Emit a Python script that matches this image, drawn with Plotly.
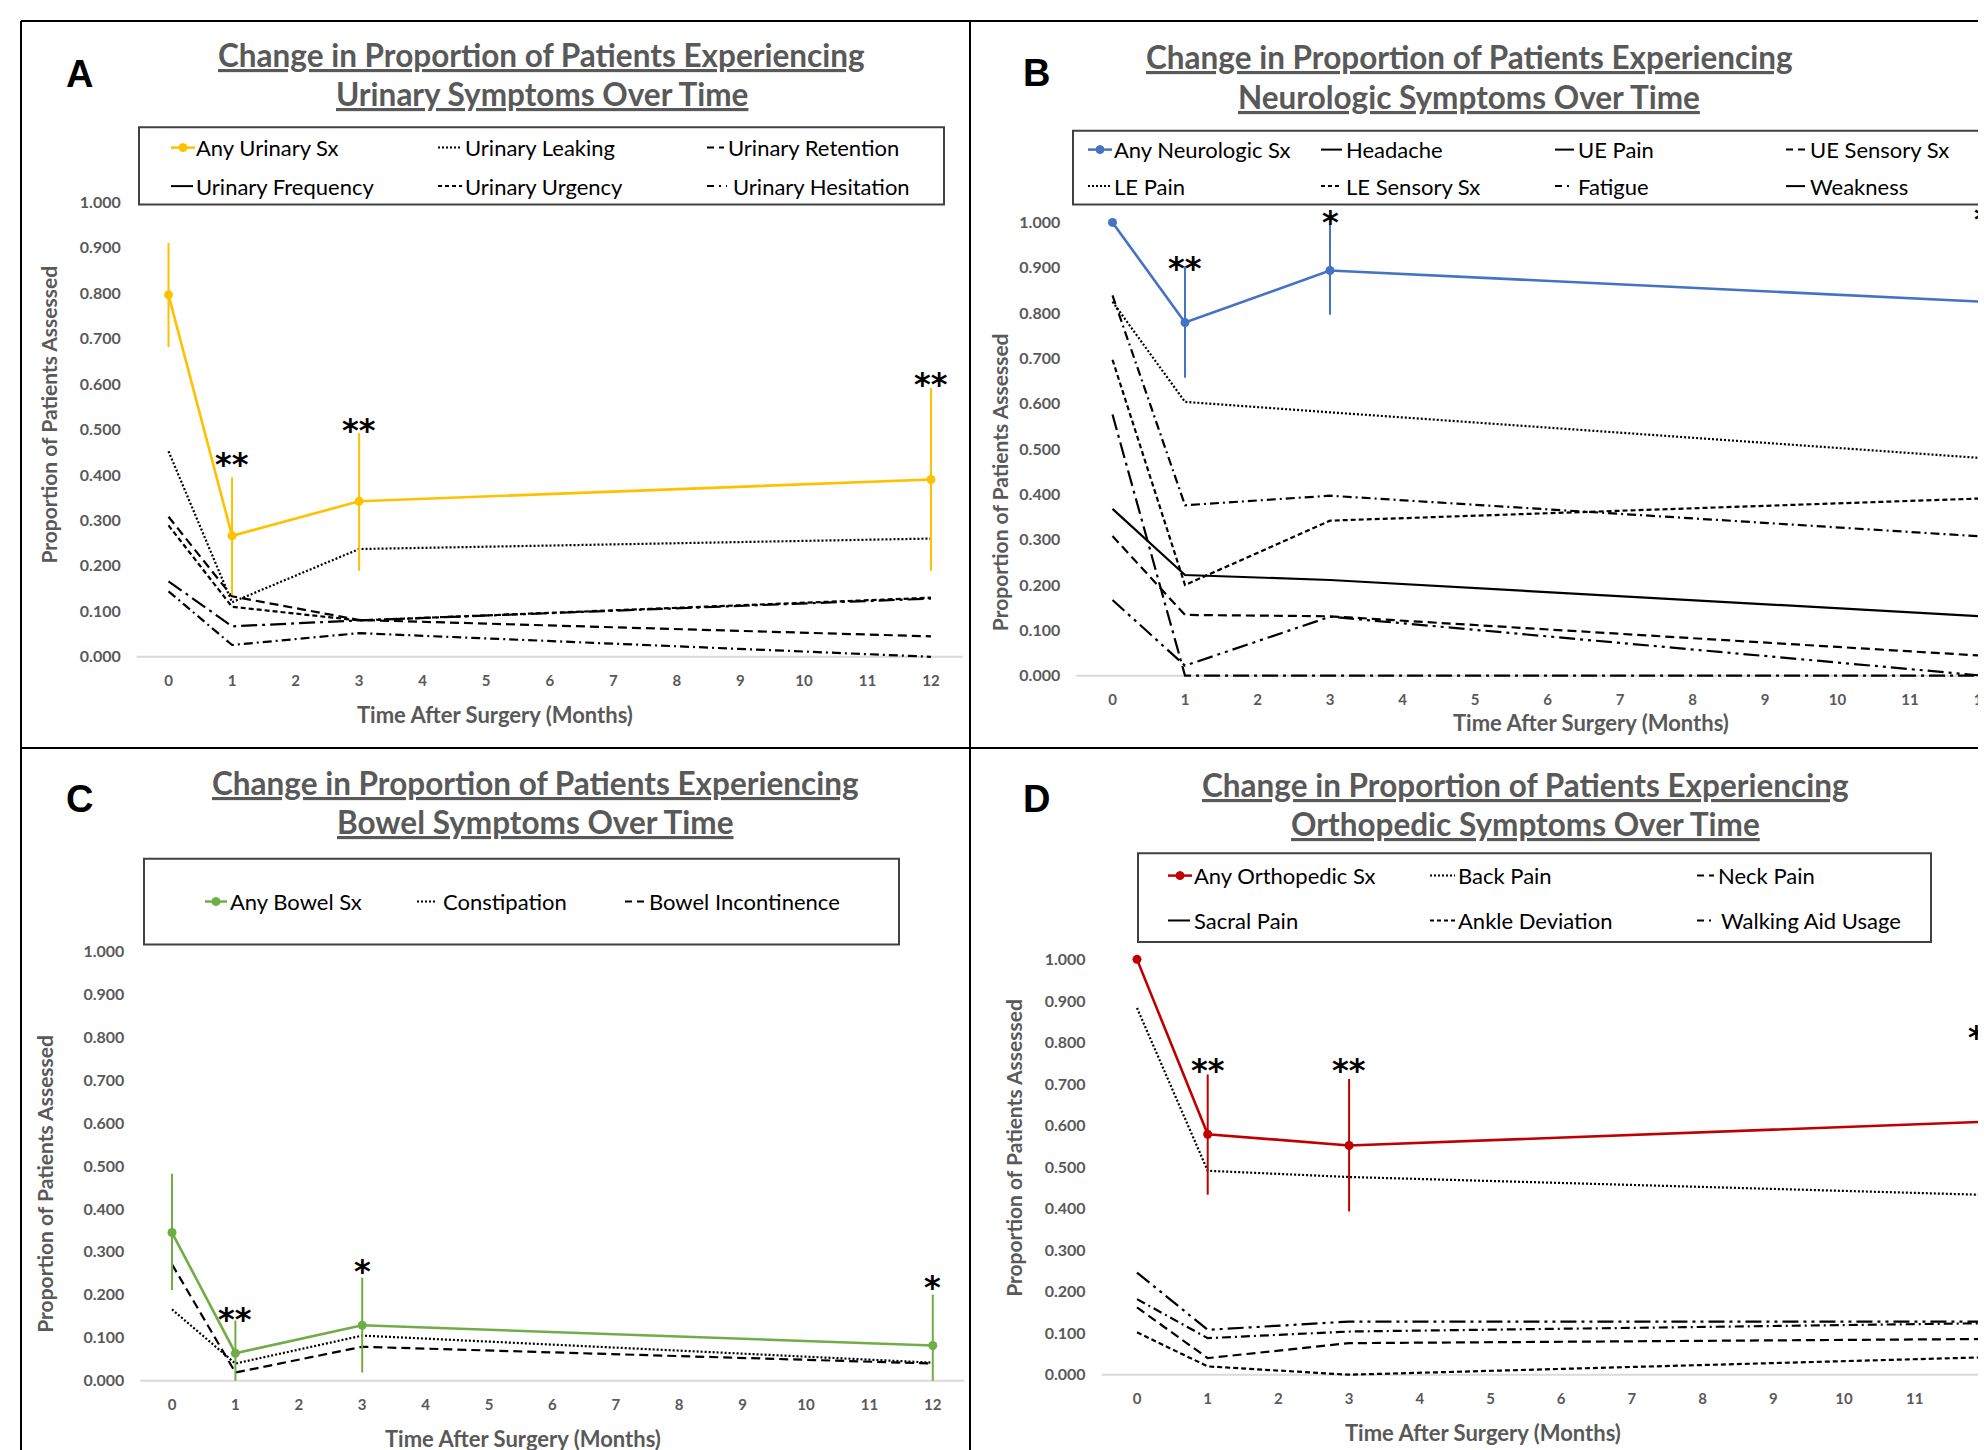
import plotly.graph_objects as go

W, H = 1986, 1450
OFF = 8  # page body margin of the html page

# ---------------- data ----------------
months = [0, 1, 3, 12]
x_ticks = [0, 1, 2, 3, 4, 5, 6, 7, 8, 9, 10, 11, 12]
x_tick_labels = ["0", "1", "2", "3", "4", "5", "6", "7", "8", "9", "10", "11", "12"]
y_ticks = [0.0, 0.1, 0.2, 0.3, 0.4, 0.5, 0.6, 0.7, 0.8, 0.9, 1.0]
y_tick_labels = ["0.000", "0.100", "0.200", "0.300", "0.400", "0.500",
                 "0.600", "0.700", "0.800", "0.900", "1.000"]

# Panel A - urinary
uri_any = [0.796, 0.266, 0.342, 0.390]
uri_any_hi = [0.910, 0.395, 0.492, 0.591]
uri_any_lo = [0.681, 0.136, 0.189, 0.189]
uri_leaking = [0.452, 0.120, 0.237, 0.260]
uri_retention = [0.308, 0.133, 0.081, 0.045]
uri_frequency = [0.166, 0.067, 0.080, 0.128]
uri_urgency = [0.289, 0.110, 0.080, 0.130]
uri_hesitation = [0.144, 0.026, 0.052, 0.000]
uri_stars = ["", "**", "**", "**"]
uri_star_y = [None, 0.440, 0.514, 0.615]

# Panel B - neurologic
neu_any = [1.000, 0.779, 0.894, 0.825]
neu_any_hi = [1.000, 0.903, 0.996, 0.981]
neu_any_lo = [1.000, 0.657, 0.796, 0.671]
neu_headache = [0.368, 0.222, 0.211, 0.131]
neu_ue_pain = [0.576, 0.000, 0.000, 0.000]
neu_ue_sensory = [0.308, 0.134, 0.131, 0.044]
neu_le_pain = [0.825, 0.604, 0.581, 0.480]
neu_le_sensory = [0.697, 0.200, 0.342, 0.391]
neu_fatigue = [0.839, 0.376, 0.397, 0.307]
neu_weakness = [0.167, 0.022, 0.130, 0.000]
neu_stars = ["", "**", "*", "*"]
neu_star_y = [None, 0.915, 1.016, 1.022]

# Panel C - bowel
bow_any = [0.345, 0.064, 0.129, 0.082]
bow_any_hi = [0.482, 0.140, 0.240, 0.201]
bow_any_lo = [0.211, 0.000, 0.019, 0.000]
bow_constipation = [0.166, 0.040, 0.105, 0.042]
bow_incontinence = [0.271, 0.019, 0.079, 0.040]
bow_stars = ["", "**", "*", "*"]
bow_star_y = [None, 0.161, 0.271, 0.234]

# Panel D - orthopedic
ort_any = [1.000, 0.579, 0.552, 0.609]
ort_any_hi = [1.000, 0.723, 0.712, 0.813]
ort_any_lo = [1.000, 0.433, 0.393, 0.409]
ort_back = [0.883, 0.491, 0.476, 0.433]
ort_neck = [0.162, 0.040, 0.076, 0.086]
ort_sacral = [0.246, 0.108, 0.128, 0.128]
ort_ankle = [0.102, 0.020, 0.000, 0.042]
ort_walking = [0.182, 0.088, 0.104, 0.124]
ort_stars = ["", "**", "**", "**"]
ort_star_y = [None, 0.750, 0.750, 0.829]

# ---------------- styles ----------------
GOLD, BLUE, GREEN, RED = "#FFC000", "#4472C4", "#70AD47", "#C00000"
GRAY = "#595959"
BLACK = "#000000"
LINE_DASH = {
    "dot": "2px,2px",
    "dash": "9px,5px",
    "sqdash": "5px,3px",
    "dashdot": "9px,4px,2px,4px",
    "longdashdot": "16px,5px,3px,5px",
    "longdashdotdot": "16px,5px,3px,5px,3px,5px",
    "solid": "solid",
}
LEG_DASH = {
    "dot": "2px,2px",
    "dash": "7px,5px",
    "sqdash": "4px,3px",
    "dashdot": "7px,5px,2px,5px",
    "solid": "solid",
}
TEXT_FONT = "Lato"


def fx(px):
    return (px - OFF) / W


def fy(py):
    return 1 - (py - OFF) / H


panels = [
    dict(s="", x0px=168.5, dx=63.54, xhi=12.5, y0px=658.6, y1px=202.6,
         any=("Any Urinary Sx", uri_any, uri_any_hi, uri_any_lo, GOLD),
         subs=[("Urinary Leaking", uri_leaking, "dot"),
               ("Urinary Retention", uri_retention, "dash"),
               ("Urinary Frequency", uri_frequency, "longdashdot"),
               ("Urinary Urgency", uri_urgency, "sqdash"),
               ("Urinary Hesitation", uri_hesitation, "dashdot")],
         stars=uri_stars, star_y=uri_star_y,
         letter=("A", 79.7, 74),
         title=("Change in Proportion of Patients Experiencing", "Urinary Symptoms Over Time", 541.5, 55.5, 94.5),
         xtitle=(495, 716), ytitle=(48.7, 416),
         box=(139, 127.5, 944, 205),
         legend=[("Any Urinary Sx", "any", 171, 195, 194, 148),
                 ("Urinary Leaking", "dot", 438, 462, 463, 148),
                 ("Urinary Retention", "dash", 707, 724, 726, 148),
                 ("Urinary Frequency", "solid", 171, 193, 194, 186.6),
                 ("Urinary Urgency", "sqdash", 438, 462, 463, 186.6),
                 ("Urinary Hesitation", "dashdot", 707, 727, 731, 186.6)]),
    dict(s="2", x0px=1112.5, dx=72.5, xhi=(W + OFF - 1112.5) / 72.5, y0px=677.5, y1px=223,
         any=("Any Neurologic Sx", neu_any, neu_any_hi, neu_any_lo, BLUE),
         subs=[("Headache", neu_headache, "solid"),
               ("UE Pain", neu_ue_pain, "longdashdot"),
               ("UE Sensory Sx", neu_ue_sensory, "dash"),
               ("LE Pain", neu_le_pain, "dot"),
               ("LE Sensory Sx", neu_le_sensory, "sqdash"),
               ("Fatigue", neu_fatigue, "dashdot"),
               ("Weakness", neu_weakness, "longdashdotdot")],
         stars=neu_stars, star_y=neu_star_y,
         letter=("B", 1036.5, 73),
         title=("Change in Proportion of Patients Experiencing", "Neurologic Symptoms Over Time", 1469, 57, 97),
         xtitle=(1591, 724.7), ytitle=(999, 483.5),
         box=(1073, 131, 2010, 205),
         legend=[("Any Neurologic Sx", "any", 1088, 1112, 1112, 150),
                 ("Headache", "solid", 1321, 1342, 1344, 150),
                 ("UE Pain", "solid", 1555, 1574, 1576, 150),
                 ("UE Sensory Sx", "dash", 1786, 1805, 1808, 150),
                 ("LE Pain", "dot", 1088, 1110, 1112, 186.6),
                 ("LE Sensory Sx", "sqdash", 1321, 1342, 1344, 186.6),
                 ("Fatigue", "dashdot", 1555, 1574, 1576, 186.6),
                 ("Weakness", "solid", 1786, 1805, 1808, 186.6)]),
    dict(s="3", x0px=172, dx=63.4, xhi=12.5, y0px=1384.5, y1px=953.8,
         any=("Any Bowel Sx", bow_any, bow_any_hi, bow_any_lo, GREEN),
         subs=[("Constipation", bow_constipation, "dot"),
               ("Bowel Incontinence", bow_incontinence, "dash")],
         stars=bow_stars, star_y=bow_star_y,
         letter=("C", 79.7, 801),
         title=("Change in Proportion of Patients Experiencing", "Bowel Symptoms Over Time", 535, 785, 824),
         xtitle=(523, 1442), ytitle=(45, 1187),
         box=(144, 861, 899, 947),
         legend=[("Any Bowel Sx", "any", 205, 227, 228, 904),
                 ("Constipation", "dot", 417, 437, 441, 904),
                 ("Bowel Incontinence", "dash", 625, 645, 647, 904)]),
    dict(s="4", x0px=1137, dx=70.7, xhi=(W + OFF - 1137) / 70.7, y0px=1378.5, y1px=962,
         any=("Any Orthopedic Sx", ort_any, ort_any_hi, ort_any_lo, RED),
         subs=[("Back Pain", ort_back, "dot"),
               ("Neck Pain", ort_neck, "dash"),
               ("Sacral Pain", ort_sacral, "longdashdotdot"),
               ("Ankle Deviation", ort_ankle, "sqdash"),
               ("Walking Aid Usage", ort_walking, "dashdot")],
         stars=ort_stars, star_y=ort_star_y,
         letter=("D", 1036.5, 801),
         title=("Change in Proportion of Patients Experiencing", "Orthopedic Symptoms Over Time", 1525, 787.5, 826),
         xtitle=(1483, 1436), ytitle=(1014, 1151),
         box=(1138, 855.5, 1931, 944.7),
         legend=[("Any Orthopedic Sx", "any", 1168, 1192, 1192, 878),
                 ("Back Pain", "dot", 1430, 1455, 1456, 878),
                 ("Neck Pain", "dash", 1697, 1714, 1716, 878),
                 ("Sacral Pain", "solid", 1168, 1190, 1192, 923),
                 ("Ankle Deviation", "sqdash", 1430, 1455, 1456, 923),
                 ("Walking Aid Usage", "dashdot", 1697, 1714, 1719, 923)]),
]

YLO, YHI = -0.01, 1.03
tickfont_y = dict(family=TEXT_FONT, size=16, color=GRAY, weight="bold")
tickfont_x = dict(family=TEXT_FONT, size=15, color=GRAY, weight="bold")
shapes = []
annotations = []
layout_axes = {}
traces = []

for p in panels:
    s = p["s"]
    xr, yr = "x" + s, "y" + s
    u = p["y0px"] - p["y1px"]
    bot_px = p["y0px"] - YLO * u
    top_px = p["y0px"] - YHI * u
    left_px = p["x0px"] - 0.5 * p["dx"]
    right_px = min(W + OFF, p["x0px"] + p["xhi"] * p["dx"])
    layout_axes["xaxis" + s] = dict(
        domain=[fx(left_px), fx(right_px)], range=[-0.5, p["xhi"]], anchor=yr,
        tickmode="array", tickvals=x_ticks, ticktext=x_tick_labels,
        showgrid=False, zeroline=False, showline=False, ticks="",
        tickfont=tickfont_x, ticklabelstandoff=9)
    layout_axes["yaxis" + s] = dict(
        domain=[fy(bot_px), fy(top_px)], range=[YLO, YHI], anchor=xr,
        tickmode="array", tickvals=y_ticks, ticktext=y_tick_labels,
        showgrid=False, zeroline=False, showline=False, ticks="",
        tickfont=tickfont_y, ticklabelstandoff=15)
    # baseline
    shapes.append(dict(type="line", xref=xr + " domain", yref=yr, x0=0, x1=1, y0=0, y1=0,
                       line=dict(color="#D9D9D9", width=2), layer="below"))
    # subtype lines
    for name, vals, style in p["subs"]:
        traces.append(go.Scatter(x=months, y=vals, mode="lines", name=name, xaxis=xr, yaxis=yr,
                                 line=dict(color=BLACK, width=2.2, dash=LINE_DASH[style]),
                                 showlegend=False, hoverinfo="skip"))
    # "any" series with error bars
    name, vals, hi, lo, col = p["any"]
    plus = [h - v for h, v in zip(hi, vals)]
    minus = [v - l for v, l in zip(vals, lo)]
    traces.append(go.Scatter(
        x=months, y=vals, mode="lines+markers", name=name, xaxis=xr, yaxis=yr,
        line=dict(color=col, width=2.6), marker=dict(color=col, size=9),
        error_y=dict(type="data", symmetric=False, array=plus, arrayminus=minus,
                     color=col, thickness=2, width=0),
        cliponaxis=False, showlegend=False))
    # significance stars
    for xm, st, sy in zip(months, p["stars"], p["star_y"]):
        if st:
            annotations.append(dict(x=xm, y=sy, xref=xr, yref=yr, text=st, showarrow=False,
                                    xanchor="center", yanchor="middle", yshift=-7,
                                    font=dict(family="DejaVu Sans", size=32, color=BLACK, weight="bold")))
    # panel letter
    L, lx, ly = p["letter"]
    annotations.append(dict(x=fx(lx), y=fy(ly), xref="paper", yref="paper", text=L, showarrow=False,
                            xanchor="center", yanchor="middle",
                            font=dict(family="Liberation Sans", size=38, color=BLACK, weight="bold")))
    # titles
    t1, t2, tx, ty1, ty2 = p["title"]
    for t, ty in ((t1, ty1), (t2, ty2)):
        annotations.append(dict(x=fx(tx), y=fy(ty), xref="paper", yref="paper", text=t, showarrow=False,
                                xanchor="center", yanchor="middle",
                                font=dict(family=TEXT_FONT, size=31.5, color=GRAY, weight="bold",
                                          lineposition="under")))
    # axis titles
    xtx, xty = p["xtitle"]
    annotations.append(dict(x=fx(xtx), y=fy(xty), xref="paper", yref="paper",
                            text="Time After Surgery (Months)", showarrow=False,
                            xanchor="center", yanchor="middle",
                            font=dict(family=TEXT_FONT, size=22, color=GRAY, weight="bold")))
    ytx, yty = p["ytitle"]
    annotations.append(dict(x=fx(ytx), y=fy(yty), xref="paper", yref="paper",
                            text="Proportion of Patients Assessed", showarrow=False, textangle=-90,
                            xanchor="center", yanchor="middle",
                            font=dict(family=TEXT_FONT, size=21, color=GRAY, weight="bold")))
    # legend box and entries
    bx0, by0, bx1, by1 = p["box"]
    shapes.append(dict(type="rect", xref="paper", yref="paper", x0=fx(bx0), x1=fx(bx1),
                       y0=fy(by1), y1=fy(by0), line=dict(color="#404040", width=2)))
    for label, style, gx0, gx1, txx, gy in p["legend"]:
        if style == "any":
            shapes.append(dict(type="line", xref="paper", yref="paper", x0=fx(gx0), x1=fx(gx1),
                               y0=fy(gy), y1=fy(gy), line=dict(color=col, width=2.5)))
            cx = (gx0 + gx1) / 2
            shapes.append(dict(type="circle", xref="paper", yref="paper",
                               x0=fx(cx - 4), x1=fx(cx + 4), y0=fy(gy + 4), y1=fy(gy - 4),
                               fillcolor=col, line=dict(color=col, width=1)))
        else:
            shapes.append(dict(type="line", xref="paper", yref="paper", x0=fx(gx0), x1=fx(gx1),
                               y0=fy(gy), y1=fy(gy),
                               line=dict(color=BLACK, width=2, dash=LEG_DASH[style])))
        annotations.append(dict(x=fx(txx), y=fy(gy), xref="paper", yref="paper", text=label,
                                showarrow=False, xanchor="left", yanchor="middle",
                                font=dict(family=TEXT_FONT, size=22, color=BLACK)))

fig = go.Figure()
for t in traces:
    fig.add_trace(t)

# panel frame lines
frame = [(21, 21, W + OFF, 21), (21, 21, 21, H + OFF), (970, 21, 970, H + OFF), (21, 750, W + OFF, 750)]
for x0, y0, x1, y1 in frame:
    shapes.append(dict(type="line", xref="paper", yref="paper", x0=fx(x0), x1=fx(x1),
                       y0=fy(y0), y1=fy(y1), line=dict(color=BLACK, width=2)))

fig.update_layout(
    width=W, height=H, margin=dict(l=0, r=0, t=0, b=0),
    paper_bgcolor="white", plot_bgcolor="white",
    showlegend=False, shapes=shapes, annotations=annotations,
    **layout_axes)

fig.write_html("out.html")
